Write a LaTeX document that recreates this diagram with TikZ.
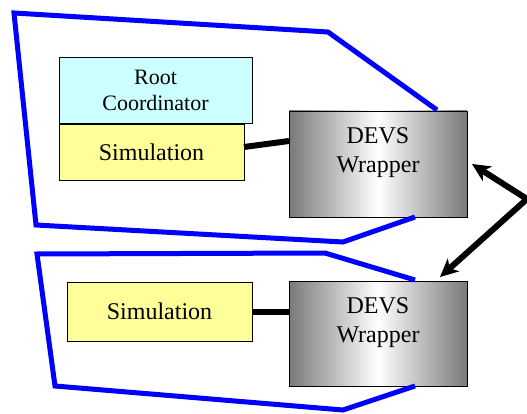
\documentclass[tikz,border=0pt]{standalone}
\usepackage{fontspec}
\setmainfont{Liberation Serif}
\usetikzlibrary{arrows.meta}
\definecolor{rootcyan}{HTML}{CCFFFF}
\definecolor{simyellow}{HTML}{FFFF99}

\begin{document}
\begin{tikzpicture}[x=1pt, y=-1pt,
    box/.style={draw, line width=0.9pt, inner sep=0pt, outer sep=0pt, align=center},
    sim/.style={box, fill=simyellow, minimum width=185pt, font=\fontsize{24}{29}\selectfont},
    wrapper/.style={box, left color=gray!95!black, right color=gray!95!black, middle color=white,
        minimum width=178pt, text height=46pt, text depth=28pt,
        font=\fontsize{24}{29}\selectfont},
    bound/.style={blue, line width=5pt},
    link/.style={line width=6pt}]
    \useasboundingbox (0,0) rectangle (527,414);

    \node[box, fill=rootcyan, minimum width=193pt, minimum height=66pt,
        font=\fontsize{22}{26}\selectfont] (root) at (155.5,90) {Root\\Coordinator};
    \node[sim, minimum height=56pt] (sim1) at (151.5,152) {Simulation};
    \node[wrapper, minimum height=106pt] (dw1) at (378,164) {DEVS\\Wrapper};

    \node[sim, minimum height=59pt] (sim2) at (159.5,311.5) {Simulation};
    \node[wrapper, minimum height=105pt] (dw2) at (378,333.5) {DEVS\\Wrapper};

    \draw[link] ([yshift=5pt]sim1.east) -- ([yshift=23pt]dw1.west);
    \draw[link] (sim2.east) -- (sim2.east -| dw2.west);

    \coordinate (bend) at (527,199);
    \draw[link, {Stealth[length=18pt, width=17pt, inset=5pt]}-{Stealth[length=18pt, width=17pt, inset=5pt]}]
        ([xshift=5pt]dw1.east) -- (bend) -- ([xshift=-27pt, yshift=4pt]dw2.north east);

    % enclosing lines
    \draw[bound] (437,110) -- (328,32) -- (14,13) -- (36,225) -- (343,242) -- (415,217);
    \draw[bound] (415,280) -- (325,253) -- (37,254) -- (55,386) -- (343,410) -- (415,386);
\end{tikzpicture}
\end{document}
